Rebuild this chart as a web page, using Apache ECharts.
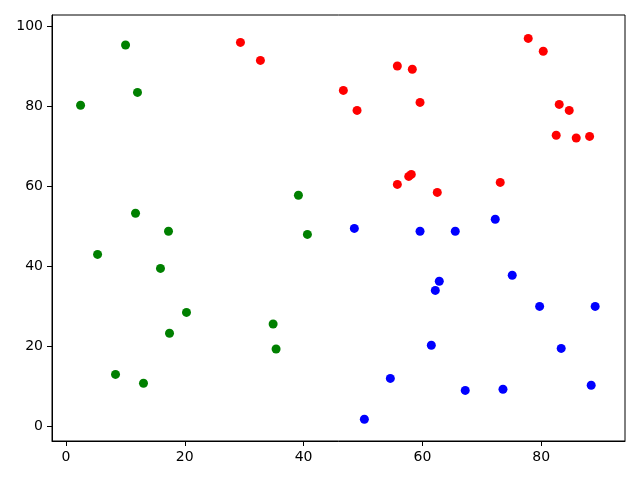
<!DOCTYPE html>
<html>
<head>
<meta charset="utf-8">
<script src="https://cdn.jsdelivr.net/npm/echarts@6/dist/echarts.min.js"></script>
<style>html,body{margin:0;padding:0;background:#fff;}#c{width:640px;height:480px;}</style>
</head>
<body>
<div id="c"></div>
<script>
var xTicks = [0, 20, 40, 60, 80];
var yTicks = [0, 20, 40, 60, 80, 100];

var greenX = [2.46, 10.03, 12.04, 11.71, 5.32, 17.26, 15.91, 20.29, 17.43, 8.34, 13.05, 39.13, 40.64, 34.87, 35.37];
var greenY = [80.2, 95.25, 83.4, 53.2, 42.9, 48.7, 39.4, 28.4, 23.2, 12.9, 10.7, 57.7, 47.9, 25.5, 19.25];

var redX = [29.37, 32.73, 46.69, 49.0, 55.78, 58.30, 59.6, 57.7, 58.13, 55.78, 62.5, 73.1, 77.81, 80.34, 83.03, 84.71, 82.52, 85.89, 88.14];
var redY = [95.9, 91.4, 83.9, 78.9, 90.0, 89.2, 80.9, 62.4, 62.9, 60.4, 58.4, 60.9, 96.9, 93.7, 80.4, 78.9, 72.7, 72.0, 72.4];

var blueX = [48.54, 59.6, 65.53, 72.26, 75.12, 62.84, 62.17, 79.73, 89.08, 61.5, 83.36, 54.6, 67.21, 73.56, 88.41, 50.23];
var blueY = [49.4, 48.7, 48.7, 51.7, 37.7, 36.2, 33.9, 29.9, 29.9, 20.2, 19.4, 11.9, 8.9, 9.2, 10.2, 1.7];

function pairs(xs, ys) { return xs.map(function (v, i) { return [v, ys[i]]; }); }

var labelStyle = { color: '#000', fontFamily: 'DejaVu Sans', fontSize: 14 };

var chart = echarts.init(document.getElementById('c'), null, { renderer: 'canvas' });
chart.setOption({
  animation: false,
  backgroundColor: '#fff',
  grid: { left: 52, top: 15, right: 15, bottom: 39, show: true, borderColor: '#000', borderWidth: 1, containLabel: false },
  xAxis: {
    type: 'value', min: -2.35, max: 94.1,
    axisLine: { show: true, onZero: false, lineStyle: { color: '#000', width: 1 } },
    axisTick: { show: true, inside: false, length: 5, lineStyle: { color: '#000', width: 1 }, customValues: xTicks },
    axisLabel: Object.assign({ margin: 9, customValues: xTicks }, labelStyle),
    splitLine: { show: false }
  },
  yAxis: {
    type: 'value', min: -3.75, max: 102.75,
    axisLine: { show: true, onZero: false, lineStyle: { color: '#000', width: 1 } },
    axisTick: { show: true, inside: false, length: 5, lineStyle: { color: '#000', width: 1 }, customValues: yTicks },
    axisLabel: Object.assign({ margin: 9, customValues: yTicks }, labelStyle),
    splitLine: { show: false }
  },
  series: [
    { type: 'scatter', data: pairs(greenX, greenY), symbolSize: 9, itemStyle: { color: '#008000', opacity: 1 } },
    { type: 'scatter', data: pairs(redX, redY), symbolSize: 9, itemStyle: { color: '#ff0000', opacity: 1 } },
    { type: 'scatter', data: pairs(blueX, blueY), symbolSize: 9, itemStyle: { color: '#0000ff', opacity: 1 } }
  ]
});
</script>
</body>
</html>
